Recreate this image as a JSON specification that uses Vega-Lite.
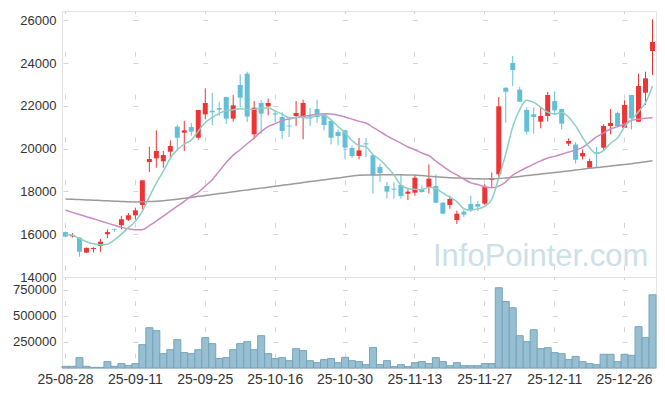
{
  "$schema": "https://vega.github.io/schema/vega-lite/v6.json",
  "autosize": {"type": "pad"},
  "padding": {"left": 12, "top": 10, "right": 10, "bottom": 5},
  "background": "white",
  "bounds": "flush",
  "spacing": 0,
  "config": {
    "view": {"stroke": "#e3e3e3"},
    "axis": {"labelFont": "Liberation Sans", "labelFontSize": 13, "labelColor": "#333333", "gridColor": "#d4d4d4", "domainColor": "#e3e3e3", "ticks": false}
  },
  "data": {"values": [
    {"d":"25-08-28","o":16100,"h":16130,"l":15860,"c":15890,"v":16000,"m5":16000,"m20":17120,"m120":17650},
    {"d":"25-08-29","o":15900,"h":16050,"l":15850,"c":15960,"v":16000,"m5":15950,"m20":17020,"m120":17635},
    {"d":"25-09-01","o":15840,"h":15860,"l":14950,"c":15180,"v":99000,"m5":15800,"m20":16920,"m120":17620},
    {"d":"25-09-02","o":15140,"h":15380,"l":15120,"c":15360,"v":16000,"m5":15650,"m20":16820,"m120":17605},
    {"d":"25-09-03","o":15310,"h":15390,"l":15150,"c":15360,"v":6000,"m5":15550,"m20":16720,"m120":17590},
    {"d":"25-09-04","o":15450,"h":15780,"l":15180,"c":15650,"v":6000,"m5":15502,"m20":16620,"m120":17575},
    {"d":"25-09-05","o":16000,"h":16230,"l":15810,"c":16100,"v":61000,"m5":15530,"m20":16520,"m120":17560},
    {"d":"25-09-08","o":16230,"h":16260,"l":16120,"c":16200,"v":16000,"m5":15734,"m20":16420,"m120":17545},
    {"d":"25-09-09","o":16420,"h":16850,"l":16230,"c":16700,"v":42000,"m5":16002,"m20":16320,"m120":17530},
    {"d":"25-09-10","o":16680,"h":16990,"l":16620,"c":16885,"v":25000,"m5":16307,"m20":16250,"m120":17515},
    {"d":"25-09-11","o":16885,"h":17240,"l":16680,"c":17118,"v":42000,"m5":16601,"m20":16211,"m120":17510},
    {"d":"25-09-12","o":17366,"h":18520,"l":17160,"c":18520,"v":223000,"m5":17085,"m20":16211,"m120":17515},
    {"d":"25-09-15","o":19376,"h":20092,"l":18909,"c":19517,"v":385000,"m5":17748,"m20":16400,"m120":17525},
    {"d":"25-09-16","o":19549,"h":20858,"l":19110,"c":19890,"v":357000,"m5":18386,"m20":16618,"m120":17545},
    {"d":"25-09-17","o":19409,"h":19890,"l":19110,"c":19704,"v":137000,"m5":18950,"m20":16850,"m120":17570},
    {"d":"25-09-18","o":19858,"h":20390,"l":19580,"c":20124,"v":175000,"m5":19551,"m20":17080,"m120":17600},
    {"d":"25-09-19","o":21027,"h":21120,"l":19890,"c":20512,"v":271000,"m5":19949,"m20":17310,"m120":17640},
    {"d":"25-09-22","o":20746,"h":21300,"l":19890,"c":20858,"v":147000,"m5":20218,"m20":17540,"m120":17680},
    {"d":"25-09-23","o":21012,"h":21200,"l":20605,"c":20793,"v":137000,"m5":20398,"m20":17780,"m120":17720},
    {"d":"25-09-24","o":20512,"h":21807,"l":20420,"c":21807,"v":175000,"m5":20819,"m20":17960,"m120":17770},
    {"d":"25-09-25","o":21606,"h":22822,"l":21372,"c":22135,"v":290000,"m5":21221,"m20":18250,"m120":17810},
    {"d":"25-09-26","o":21770,"h":22616,"l":21106,"c":21700,"v":233000,"m5":21459,"m20":18550,"m120":17855},
    {"d":"25-09-29","o":21900,"h":22200,"l":21530,"c":21830,"v":90000,"m5":21653,"m20":18950,"m120":17900},
    {"d":"25-09-30","o":22415,"h":22430,"l":21150,"c":21403,"v":99000,"m5":21775,"m20":19350,"m120":17940},
    {"d":"25-10-01","o":21403,"h":22510,"l":21265,"c":22026,"v":175000,"m5":21819,"m20":19700,"m120":17985},
    {"d":"25-10-02","o":22976,"h":23477,"l":21950,"c":22382,"v":233000,"m5":21868,"m20":19950,"m120":18030},
    {"d":"25-10-10","o":23505,"h":23600,"l":21250,"c":21500,"v":252000,"m5":21828,"m20":20230,"m120":18070},
    {"d":"25-10-13","o":20670,"h":22228,"l":20437,"c":21915,"v":175000,"m5":21845,"m20":20500,"m120":18115},
    {"d":"25-10-14","o":22135,"h":22260,"l":20700,"c":21637,"v":309000,"m5":21892,"m20":20800,"m120":18155},
    {"d":"25-10-15","o":21980,"h":22340,"l":21560,"c":22135,"v":137000,"m5":21914,"m20":21030,"m120":18200},
    {"d":"25-10-16","o":21650,"h":21770,"l":21220,"c":21600,"v":90000,"m5":21757,"m20":21170,"m120":18240},
    {"d":"25-10-17","o":21480,"h":21700,"l":20450,"c":20825,"v":99000,"m5":21622,"m20":21310,"m120":18285},
    {"d":"25-10-20","o":21080,"h":21370,"l":20540,"c":21040,"v":70000,"m5":21447,"m20":21390,"m120":18330},
    {"d":"25-10-21","o":21527,"h":22230,"l":21060,"c":21667,"v":185000,"m5":21453,"m20":21460,"m120":18370},
    {"d":"25-10-22","o":21480,"h":22290,"l":20440,"c":22135,"v":166000,"m5":21453,"m20":21510,"m120":18415},
    {"d":"25-10-23","o":21560,"h":21900,"l":21060,"c":21500,"v":70000,"m5":21433,"m20":21560,"m120":18460},
    {"d":"25-10-24","o":21853,"h":22290,"l":21200,"c":21480,"v":51000,"m5":21564,"m20":21610,"m120":18500},
    {"d":"25-10-27","o":21606,"h":21650,"l":20858,"c":21106,"v":80000,"m5":21578,"m20":21634,"m120":18545},
    {"d":"25-10-28","o":21293,"h":21320,"l":20200,"c":20512,"v":90000,"m5":21347,"m20":21625,"m120":18590},
    {"d":"25-10-29","o":20780,"h":20900,"l":20150,"c":20590,"v":51000,"m5":21038,"m20":21560,"m120":18630},
    {"d":"25-10-30","o":20858,"h":20880,"l":19500,"c":20045,"v":102000,"m5":20747,"m20":21480,"m120":18670},
    {"d":"25-10-31","o":20030,"h":20150,"l":19560,"c":19657,"v":70000,"m5":20382,"m20":21380,"m120":18720},
    {"d":"25-11-03","o":19657,"h":20500,"l":19500,"c":19920,"v":61000,"m5":20145,"m20":21275,"m120":18760},
    {"d":"25-11-04","o":20250,"h":20500,"l":19600,"c":20200,"v":32000,"m5":20082,"m20":21200,"m120":18770},
    {"d":"25-11-05","o":19690,"h":19720,"l":17900,"c":18770,"v":197000,"m5":19718,"m20":21000,"m120":18770},
    {"d":"25-11-06","o":19140,"h":19300,"l":18440,"c":18860,"v":32000,"m5":19481,"m20":20800,"m120":18775},
    {"d":"25-11-07","o":18254,"h":18440,"l":17660,"c":17990,"v":70000,"m5":19148,"m20":20600,"m120":18775},
    {"d":"25-11-10","o":18130,"h":18430,"l":17660,"c":18080,"v":13000,"m5":18780,"m20":20420,"m120":18775},
    {"d":"25-11-11","o":18300,"h":18800,"l":17660,"c":17787,"v":32000,"m5":18297,"m20":20260,"m120":18775},
    {"d":"25-11-12","o":17894,"h":18100,"l":17600,"c":17990,"v":13000,"m5":18141,"m20":20080,"m120":18770},
    {"d":"25-11-13","o":17941,"h":18770,"l":17800,"c":18642,"v":51000,"m5":18098,"m20":19950,"m120":18765},
    {"d":"25-11-14","o":18080,"h":18280,"l":17950,"c":17975,"v":61000,"m5":18095,"m20":19800,"m120":18740},
    {"d":"25-11-17","o":18208,"h":19260,"l":17900,"c":18596,"v":42000,"m5":18198,"m20":19670,"m120":18715},
    {"d":"25-11-18","o":18254,"h":18800,"l":17450,"c":17474,"v":99000,"m5":18135,"m20":19420,"m120":18690},
    {"d":"25-11-19","o":17474,"h":17500,"l":16950,"c":16960,"v":61000,"m5":17929,"m20":19180,"m120":18665},
    {"d":"25-11-20","o":17366,"h":17800,"l":17190,"c":17646,"v":22000,"m5":17730,"m20":18955,"m120":18645},
    {"d":"25-11-21","o":16665,"h":17100,"l":16480,"c":16960,"v":51000,"m5":17527,"m20":18770,"m120":18630},
    {"d":"25-11-24","o":17053,"h":17150,"l":16800,"c":16913,"v":22000,"m5":17191,"m20":18580,"m120":18615},
    {"d":"25-11-25","o":17412,"h":17800,"l":17040,"c":17132,"v":22000,"m5":17122,"m20":18400,"m120":18600},
    {"d":"25-11-26","o":17412,"h":17550,"l":17080,"c":17287,"v":22000,"m5":17188,"m20":18320,"m120":18590},
    {"d":"25-11-27","o":17427,"h":18330,"l":17360,"c":18208,"v":42000,"m5":17300,"m20":18220,"m120":18585},
    {"d":"25-11-28","o":18540,"h":18880,"l":18190,"c":18600,"v":42000,"m5":17628,"m20":18170,"m120":18590},
    {"d":"25-12-01","o":18800,"h":22415,"l":18570,"c":21980,"v":767000,"m5":18641,"m20":18250,"m120":18600},
    {"d":"25-12-02","o":22850,"h":22870,"l":21213,"c":22660,"v":636000,"m5":19747,"m20":18450,"m120":18630},
    {"d":"25-12-03","o":24004,"h":24332,"l":22930,"c":23677,"v":576000,"m5":21025,"m20":18760,"m120":18665},
    {"d":"25-12-04","o":22757,"h":22900,"l":22180,"c":22196,"v":309000,"m5":21823,"m20":18950,"m120":18700},
    {"d":"25-12-05","o":21807,"h":21930,"l":20670,"c":20793,"v":252000,"m5":22261,"m20":19120,"m120":18740},
    {"d":"25-12-08","o":21606,"h":21930,"l":20700,"c":21480,"v":366000,"m5":22161,"m20":19280,"m120":18775},
    {"d":"25-12-09","o":21262,"h":21960,"l":20950,"c":21527,"v":185000,"m5":21935,"m20":19430,"m120":18810},
    {"d":"25-12-10","o":21527,"h":22650,"l":21270,"c":22509,"v":194000,"m5":21701,"m20":19560,"m120":18845},
    {"d":"25-12-11","o":22228,"h":22680,"l":21600,"c":21790,"v":147000,"m5":21620,"m20":19640,"m120":18880},
    {"d":"25-12-12","o":21853,"h":21870,"l":20900,"c":21170,"v":137000,"m5":21695,"m20":19740,"m120":18920},
    {"d":"25-12-15","o":20232,"h":20480,"l":20125,"c":20358,"v":80000,"m5":21471,"m20":19840,"m120":18960},
    {"d":"25-12-16","o":20200,"h":20300,"l":19300,"c":19485,"v":111000,"m5":21062,"m20":19940,"m120":19000},
    {"d":"25-12-17","o":19640,"h":19970,"l":19500,"c":19797,"v":61000,"m5":20520,"m20":20060,"m120":19040},
    {"d":"25-12-18","o":19110,"h":19530,"l":19100,"c":19423,"v":42000,"m5":20047,"m20":20300,"m120":19080},
    {"d":"25-12-19","o":19830,"h":20080,"l":19110,"c":19780,"v":32000,"m5":19769,"m20":20550,"m120":19115},
    {"d":"25-12-22","o":20045,"h":21140,"l":19960,"c":21060,"v":131000,"m5":19909,"m20":20740,"m120":19150},
    {"d":"25-12-23","o":21060,"h":21850,"l":20670,"c":21200,"v":131000,"m5":20252,"m20":20920,"m120":19190},
    {"d":"25-12-24","o":21667,"h":21730,"l":21000,"c":21060,"v":61000,"m5":20505,"m20":21030,"m120":19225},
    {"d":"25-12-26","o":20980,"h":22260,"l":20970,"c":22040,"v":131000,"m5":21028,"m20":21150,"m120":19260},
    {"d":"25-12-29","o":22509,"h":22520,"l":20900,"c":21420,"v":121000,"m5":21356,"m20":21330,"m120":19300},
    {"d":"25-12-30","o":21262,"h":23505,"l":21250,"c":22929,"v":395000,"m5":21730,"m20":21380,"m120":19345},
    {"d":"26-01-02","o":22616,"h":23600,"l":22040,"c":23287,"v":290000,"m5":22147,"m20":21420,"m120":19390},
    {"d":"26-01-05","o":24565,"h":26050,"l":23443,"c":24986,"v":700000,"m5":22932,"m20":21450,"m120":19430}
  ]},
  "vconcat": [
    {
      "width": 594,
      "height": 266,
      "encoding": {
        "x": {"field": "d", "type": "ordinal", "scale": {"paddingInner": 0, "paddingOuter": 0},
          "axis": {"values": ["25-08-28","25-09-11","25-09-25","25-10-16","25-10-30","25-11-13","25-11-27","25-12-11","25-12-26"],
            "labels": false, "ticks": false, "domain": false, "title": null, "grid": true, "gridDash": [5, 37.78], "gridDashOffset": 2.5}}
      },
      "layer": [
        {
          "mark": {"type": "rule", "strokeWidth": 1},
          "encoding": {
            "y": {"field": "l", "type": "quantitative", "scale": {"domain": [14000, 26436], "nice": false, "zero": false},
              "axis": {"values": [14000,16000,18000,20000,22000,24000,26000], "format": "d", "title": null, "labelPadding": 6, "domain": false, "grid": true, "gridDash": [5, 64.88], "gridDashOffset": 68.88}},
            "y2": {"field": "h"},
            "color": {"condition": {"test": "datum.c >= datum.o", "value": "#ee3434"}, "value": "#63bfd8"}
          }
        },
        {
          "mark": {"type": "bar", "width": 5},
          "encoding": {
            "y": {"field": "o", "type": "quantitative"},
            "y2": {"field": "c"},
            "color": {"condition": {"test": "datum.c >= datum.o", "value": "#ee3434"}, "value": "#63bfd8"}
          }
        },
        {
          "mark": {"type": "line", "color": "#9a9a9a", "strokeWidth": 1.5, "interpolate": "monotone"},
          "encoding": {"y": {"field": "m120", "type": "quantitative"}}
        },
        {
          "mark": {"type": "line", "color": "#c98bc4", "strokeWidth": 1.5, "interpolate": "monotone"},
          "encoding": {"y": {"field": "m20", "type": "quantitative"}}
        },
        {
          "mark": {"type": "line", "color": "#8ccfc4", "strokeWidth": 1.5, "interpolate": "monotone"},
          "encoding": {"y": {"field": "m5", "type": "quantitative"}}
        },
        {
          "transform": [{"filter": "datum.d == '25-12-09'"}],
          "mark": {"type": "text", "font": "Liberation Sans", "fontSize": 31, "color": "#cddfe8", "align": "center", "baseline": "alphabetic"},
          "encoding": {
            "y": {"datum": 14514, "type": "quantitative"},
            "text": {"value": "InfoPointer.com"}
          }
        }
      ]
    },
    {
      "width": 594,
      "height": 91,
      "mark": {"type": "bar", "fill": "#97bfd1", "stroke": "#74a4bb", "strokeWidth": 1},
      "encoding": {
        "x": {"field": "d", "type": "ordinal", "scale": {"paddingInner": 0, "paddingOuter": 0},
          "axis": {"values": ["25-08-28","25-09-11","25-09-25","25-10-16","25-10-30","25-11-13","25-11-27","25-12-11","25-12-26"],
            "labelAngle": 0, "labelFontSize": 14, "labelPadding": 4, "ticks": false, "domain": false, "title": null, "grid": true, "gridDash": [5, 21.15], "gridDashOffset": 2.5}},
        "y": {"field": "v", "type": "quantitative", "scale": {"domain": [0, 870000], "nice": false},
          "axis": {"values": [250000, 500000, 750000], "format": "d", "title": null, "labelPadding": 6, "domain": false, "grid": true, "gridDash": [5, 64.88], "gridDashOffset": 68.88}}
      }
    }
  ]
}
